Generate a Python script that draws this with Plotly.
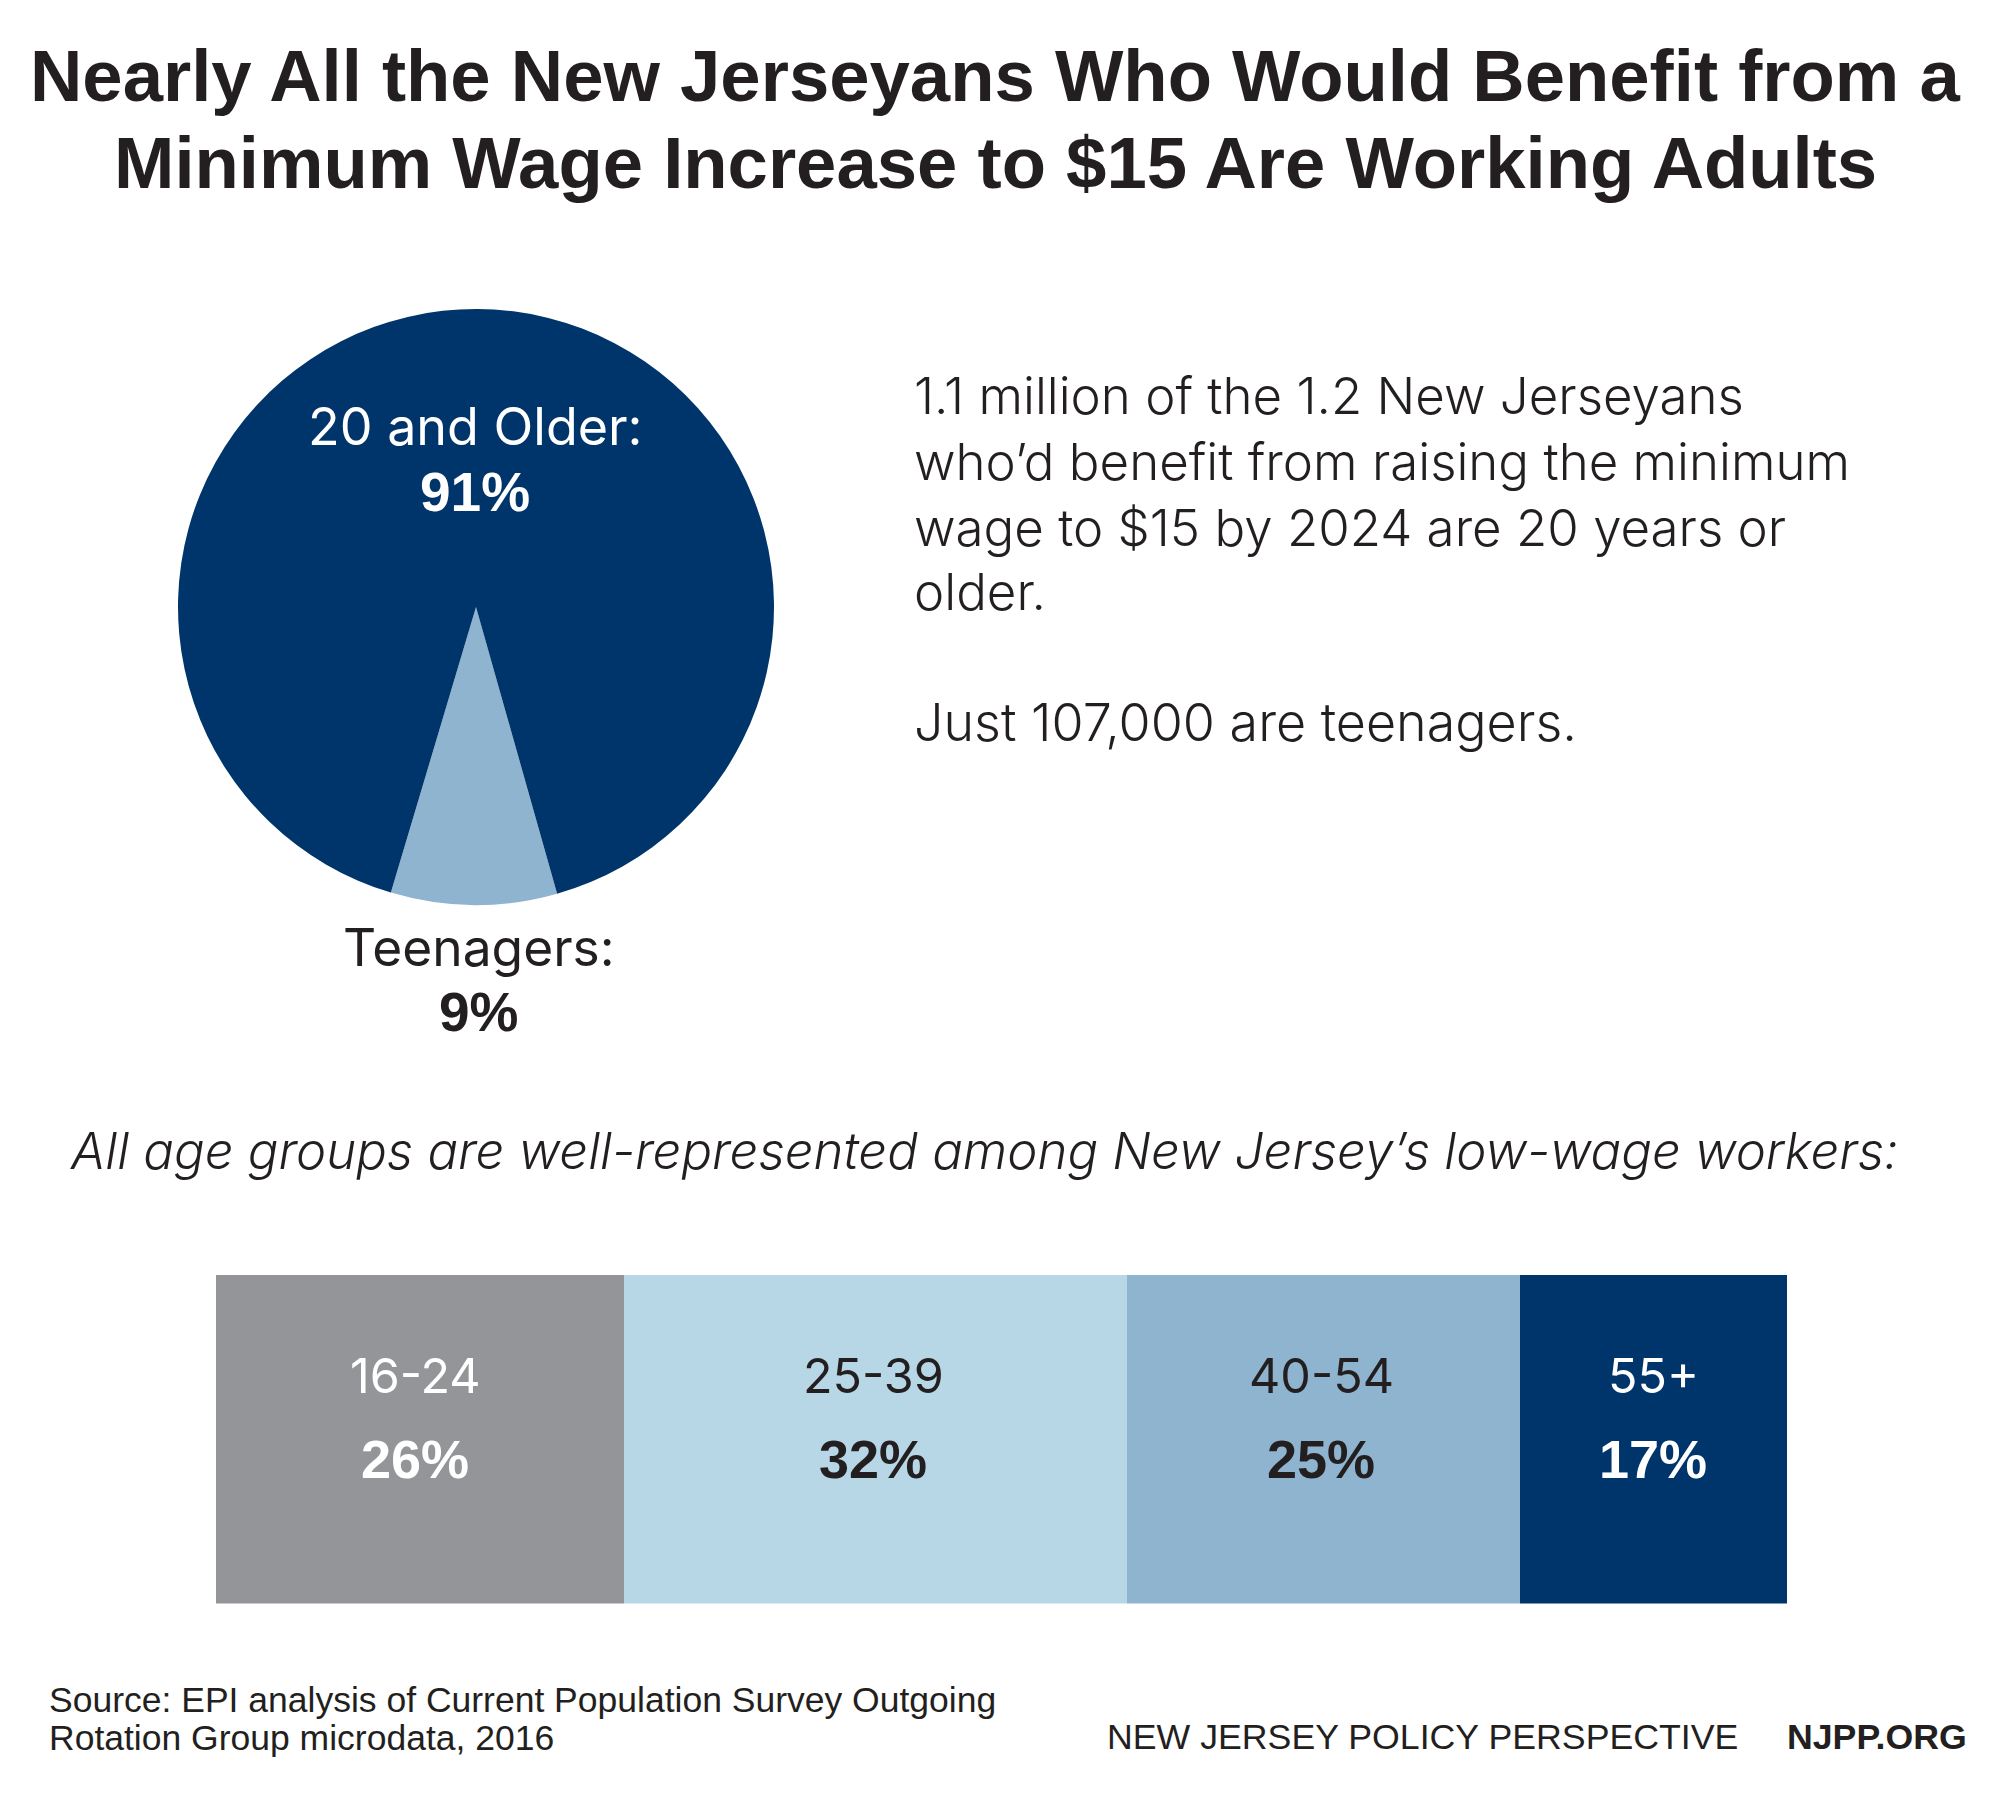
import plotly.graph_objects as go

W, H = 2000, 1796
INK = "#231F20"
DARK = "#00356B"
MID = "#8FB4CF"
PALE = "#B7D7E7"
GREY = "#939598"
LIGHT_FONT = "Inter"
BOLD_FONT = "Liberation Sans"

pie_labels = ["Teenagers", "20 and Older"]
pie_values = [9, 91]
pie_colors = [MID, DARK]

age_groups = ["16-24", "25-39", "40-54", "55+"]
age_shares = [26, 32, 25, 17]
age_colors = [GREY, PALE, MID, DARK]

fig = go.Figure()
fig.add_trace(go.Pie(
    labels=pie_labels, values=pie_values, sort=False, direction="clockwise",
    rotation=180.4 - pie_values[0] * 1.8,
    marker=dict(colors=pie_colors, line=dict(width=0)),
    textinfo="none", hoverinfo="skip", showlegend=False,
    domain=dict(x=[178 / W, 774 / W], y=[1 - 905 / H, 1 - 309 / H]),
))
for g, v, c in zip(age_groups, age_shares, age_colors):
    fig.add_trace(go.Bar(
        y=["share"], x=[v], orientation="h", name=g, width=1,
        marker=dict(color=c, line=dict(width=0)),
        hoverinfo="skip", showlegend=False,
    ))

anns = []
def t(text, x, y, size, color=INK, font=LIGHT_FONT, weight=300, anchor="center", italic=False):
    anns.append(dict(
        text=text, x=x / W, y=1 - y / H, xref="paper", yref="paper",
        xanchor=anchor, yanchor="middle", showarrow=False,
        font=dict(size=size, color=color, family=font, weight=weight,
                  style="italic" if italic else "normal"),
    ))

t("Nearly All the New Jerseyans Who Would Benefit from a", 995, 75, 72.5, font=BOLD_FONT, weight=700)
t("Minimum Wage Increase to $15 Are Working Adults", 995, 163, 72.5, font=BOLD_FONT, weight=700)

t("20 and Older:", 475, 426, 52, color="white", weight=400)
t("91%", 475, 492, 55, color="white", font=BOLD_FONT, weight=700)
t("Teenagers:", 479, 947, 51.5, weight=400)
t("9%", 479, 1012, 55, font=BOLD_FONT, weight=700)

body = ["1.1 million of the 1.2 New Jerseyans",
        "who\u2019d benefit from raising the minimum",
        "wage to $15 by 2024 are 20 years or",
        "older."]
for line, y in zip(body, [396, 462, 527, 592]):
    t(line, 912, y, 51, anchor="left")
t("Just 107,000 are teenagers.", 912, 723, 52, anchor="left")

t("All age groups are well-represented among New Jersey\u2019s low-wage workers:", 984, 1150, 50.9, italic=True)

label_x = [415, 873, 1321, 1653]
label_colors = ["white", INK, INK, "white"]
for g, v, x, c in zip(age_groups, age_shares, label_x, label_colors):
    t(g, x, 1375, 48.5, color=c, weight=400)
    t(f"{v}%", x, 1459, 54, color=c, font=BOLD_FONT, weight=700)

t("Source: EPI analysis of Current Population Survey Outgoing", 47, 1700, 35.5, font=BOLD_FONT, weight=400, anchor="left")
t("Rotation Group microdata, 2016", 47, 1738, 35.5, font=BOLD_FONT, weight=400, anchor="left")
t("NEW JERSEY POLICY PERSPECTIVE", 1104.5, 1737, 35.7, font=BOLD_FONT, weight=400, anchor="left")
t("NJPP.ORG", 1968.5, 1737, 35.7, font=BOLD_FONT, weight=700, anchor="right")

fig.update_layout(
    width=W, height=H, margin=dict(l=0, r=0, t=0, b=0),
    paper_bgcolor="white", plot_bgcolor="white", barmode="stack", bargap=0,
    annotations=anns,
    xaxis=dict(domain=[216 / W, 1787 / W], range=[0, 100], visible=False, fixedrange=True),
    yaxis=dict(domain=[1 - 1603.5 / H, 1 - 1274.5 / H], visible=False, fixedrange=True),
)
fig.write_html("out.html", config=dict(displayModeBar=False),
               post_script="document.body.style.margin='0';")
